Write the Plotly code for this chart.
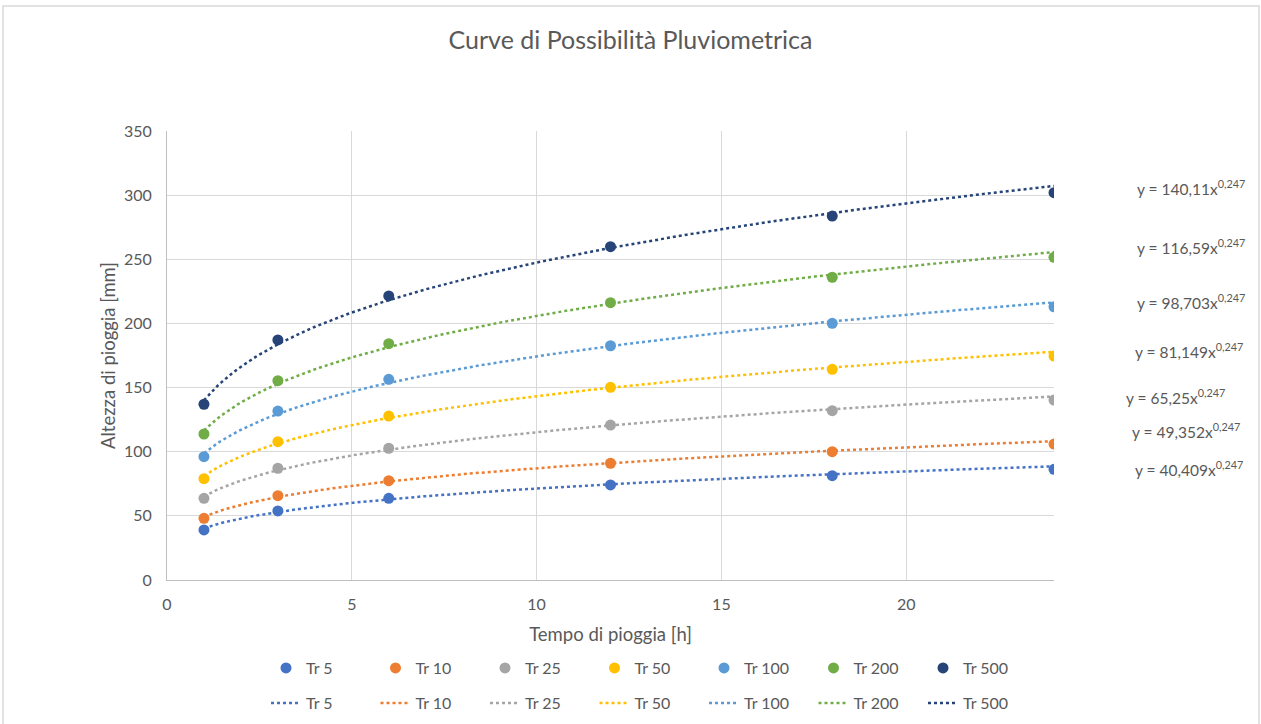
import numpy as np
import plotly.graph_objects as go

# ---- data ----
durations = [1, 3, 6, 12, 18, 24]
series_names = ["Tr 5", "Tr 10", "Tr 25", "Tr 50", "Tr 100", "Tr 200", "Tr 500"]
tr5 = [39.0, 53.8, 63.7, 74.1, 81.3, 86.3]
tr10 = [48.1, 65.7, 77.4, 91.0, 100.0, 106.0]
tr25 = [63.7, 87.1, 102.7, 120.8, 132.0, 140.3]
tr50 = [79.0, 107.8, 127.8, 150.2, 164.2, 174.6]
tr100 = [96.1, 131.7, 156.4, 182.6, 200.1, 213.0]
tr200 = [113.8, 155.4, 184.2, 216.2, 236.0, 251.5]
tr500 = [137.0, 187.1, 221.4, 259.8, 283.7, 301.9]
series_values = [tr5, tr10, tr25, tr50, tr100, tr200, tr500]

# power trendline coefficients y = a * x^b (as displayed)
trend_a = [40.409, 49.352, 65.25, 81.149, 98.703, 116.59, 140.11]
trend_a_text = ["40,409", "49,352", "65,25", "81,149", "98,703", "116,59", "140,11"]
trend_b = 0.247
trend_b_text = "0,247"

colors = ["#4472C4", "#ED7D31", "#A5A5A5", "#FFC000", "#5B9BD5", "#70AD47", "#264478"]

# label placement (pixel layout of the equations)
eq_px_right = [1245, 1242, 1227, 1245, 1247, 1247, 1247]
eq_px_y = [468, 430, 396, 350, 301, 246, 187]

W, H = 1261, 724
L, R, T, B = 167, 207, 131, 144
PW, PH = W - L - R, H - T - B

FONT = "Lato"
GRAY = "#595959"

fig = go.Figure()

for name, vals, col in zip(series_names, series_values, colors):
    fig.add_trace(go.Scatter(
        x=durations, y=vals, mode="markers", name=name,
        marker=dict(color=col, size=11),
        legend="legend",
    ))

xs = np.linspace(min(durations), max(durations), 200)
for name, a, col in zip(series_names, trend_a, colors):
    fig.add_trace(go.Scatter(
        x=xs, y=a * xs ** trend_b, mode="lines", name=name,
        line=dict(color=col, width=2.5, dash="dot"),
        legend="legend2", hoverinfo="skip",
    ))

annotations = []
for at, pxr, pyy in zip(trend_a_text, eq_px_right, eq_px_y):
    annotations.append(dict(
        text=f"y = {at}x<sup>{trend_b_text}</sup>",
        xref="paper", yref="paper",
        x=(pxr - L) / PW, y=(H - B - pyy) / PH,
        xanchor="right", yanchor="middle", showarrow=False,
        font=dict(family=FONT, size=15.5, color=GRAY),
    ))

legend_common = dict(orientation="h", xanchor="left", yanchor="middle",
                     xref="container", yref="container",
                     entrywidth=64.5, entrywidthmode="pixels",
                     font=dict(size=16, color=GRAY, family=FONT),
                     bgcolor="rgba(0,0,0,0)", traceorder="normal")

fig.update_layout(
    width=W, height=H,
    margin=dict(l=L, r=R, t=T, b=B, autoexpand=False),
    paper_bgcolor="white", plot_bgcolor="white",
    font=dict(family=FONT, color=GRAY, size=16),
    title=dict(text="Curve di Possibilità Pluviometrica", x=0.5, xanchor="center",
               y=1 - 40 / H, yanchor="middle", font=dict(size=25, color=GRAY, family=FONT)),
    xaxis=dict(range=[0, 24], dtick=5, tick0=0, showgrid=True, gridcolor="#D9D9D9", gridwidth=1,
               showline=True, linecolor="#BFBFBF", linewidth=1, zeroline=False, ticks="",
               tickfont=dict(size=16, color=GRAY), ticklabelstandoff=10,
               title=dict(text="Tempo di pioggia [h]", font=dict(size=18.5, color=GRAY), standoff=15)),
    yaxis=dict(range=[0, 350], dtick=50, showgrid=True, gridcolor="#D9D9D9", gridwidth=1,
               showline=True, linecolor="#BFBFBF", linewidth=1, zeroline=False, ticks="",
               tickfont=dict(size=16, color=GRAY), ticklabelstandoff=11,
               title=dict(text="Altezza di pioggia [mm]", font=dict(size=18.5, color=GRAY), standoff=3)),
    legend=dict(x=266 / W, y=1 - 668 / H, **legend_common),
    legend2=dict(x=266 / W, y=1 - 703 / H, **legend_common),
    annotations=annotations,
    shapes=[dict(type="rect", xref="paper", yref="paper",
                 x0=(3 - L) / PW, x1=(1259 - L) / PW,
                 y0=(H - B - 740) / PH, y1=(H - B - 6) / PH,
                 line=dict(color="#D9D9D9", width=1.5), fillcolor="rgba(0,0,0,0)", layer="below")],
    showlegend=True,
)

fig.write_html("out.html", config={"displayModeBar": False},
               post_script="document.body.style.margin='0';document.body.style.overflow='hidden';")
